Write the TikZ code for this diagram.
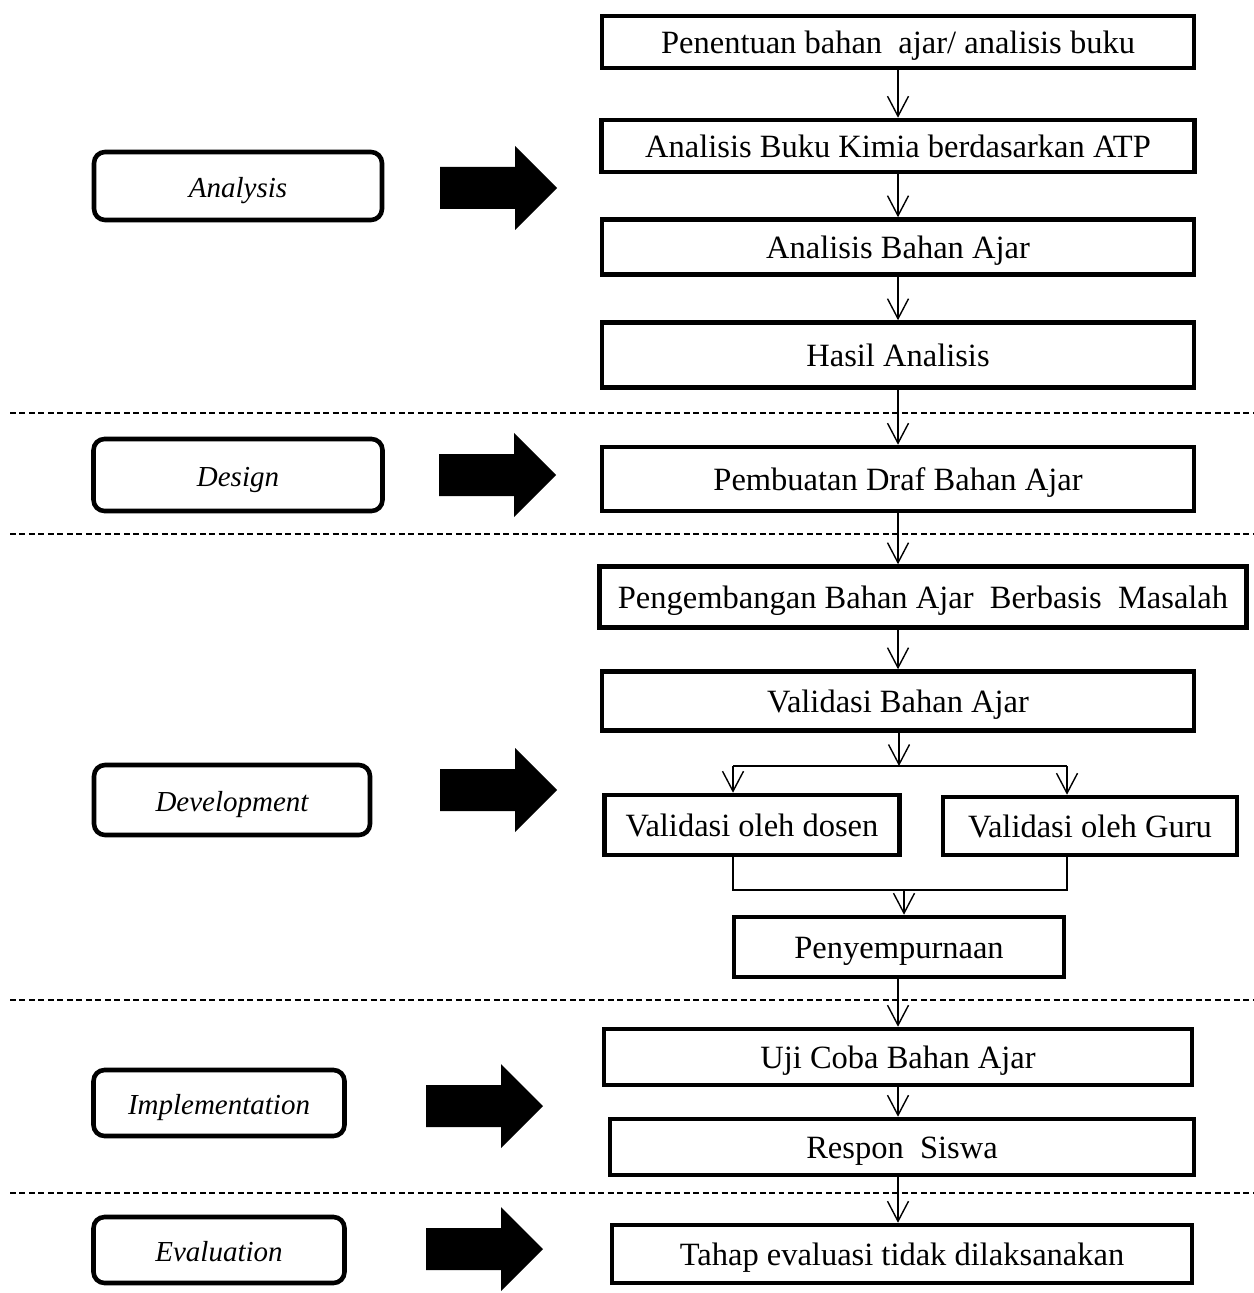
\documentclass[tikz,border=0pt]{standalone}
\usepackage{fontspec}
\setmainfont{Liberation Serif}
\usepackage{tikz}
\usetikzlibrary{arrows,arrows.meta,calc,positioning}
\tikzstyle{procbox}=[rectangle, draw, line width=2.6pt,
                     inner sep=0pt, text height=12.6pt, text depth=0pt,
                     font=\fontsize{18.5}{20}\selectfont]
\tikzstyle{phasebox}=[rectangle, draw, rounded corners=0.22cm,
                      line width=2.6pt, inner sep=0pt,
                      text height=12.6pt, text depth=0pt,
                      font=\fontsize{16.5}{18}\selectfont\itshape]
\tikzstyle{flow}=[line width=0.8pt,
                  -{Straight Barb[length=0.4cm,width=0.42cm]}]
\tikzstyle{link}=[line width=0.8pt]
\tikzstyle{stage}=[dashed, line width=0.7pt, dash pattern=on 3.4pt off 2pt]

\begin{document}
\begin{tikzpicture}[x=0.02cm,y=-0.02cm]
    \useasboundingbox (0,0) rectangle (1253,1293);

    % phases on the left
    \draw (238,186) node (ana) [phasebox, minimum width=5.76cm, minimum height=1.36cm] {Analysis};
    \draw (238,475) node (des) [phasebox, minimum width=5.78cm, minimum height=1.44cm] {Design};
    \draw (232,800) node (dev) [phasebox, minimum width=5.52cm, minimum height=1.40cm] {Development};
    \draw (219,1103) node (imp) [phasebox, minimum width=5.02cm, minimum height=1.32cm] {Implementation};
    \draw (219,1250) node (eva) [phasebox, minimum width=5.02cm, minimum height=1.32cm] {Evaluation};

    % block arrows
    \foreach \x/\y in {440/188,439/475,440/790,426/1106,426/1249}
        \fill (\x,\y-21) -- (\x+75,\y-21) -- (\x+75,\y-42) -- (\x+117,\y)
              -- (\x+75,\y+42) -- (\x+75,\y+21) -- (\x,\y+21) -- cycle;

    % stage separators
    \foreach \y in {413,534,1000,1193}
        \draw [stage] (10,\y) -- (1253,\y);

    % steps
    \draw (898,42) node (pen) [procbox, minimum width=11.84cm, minimum height=1.04cm] {Penentuan bahan \ ajar/ analisis buku};
    \draw (898,146) node (buku) [procbox, minimum width=11.86cm, minimum height=1.04cm] {Analisis Buku Kimia berdasarkan ATP};
    \draw (898,247) node (bahan) [procbox, minimum width=11.84cm, minimum height=1.10cm] {Analisis Bahan Ajar};
    \draw (898,355) node (hasil) [procbox, minimum width=11.84cm, minimum height=1.30cm] {Hasil Analisis};
    \draw (898,479) node (draf) [procbox, minimum width=11.84cm, minimum height=1.28cm] {Pembuatan Draf Bahan Ajar};
    \draw (923,597) node (kembang) [procbox, minimum width=12.94cm, minimum height=1.22cm] {Pengembangan Bahan Ajar \ Berbasis \ Masalah};
    \draw (898,701) node (valid) [procbox, minimum width=11.84cm, minimum height=1.18cm] {Validasi Bahan Ajar};
    \draw (752,825) node (dosen) [procbox, minimum width=5.90cm, minimum height=1.20cm] {Validasi oleh dosen};
    \draw (1090,826) node (guru) [procbox, minimum width=5.88cm, minimum height=1.16cm] {Validasi oleh Guru};
    \draw (899,947) node (sempurna) [procbox, minimum width=6.60cm, minimum height=1.20cm] {Penyempurnaan};
    \draw (898,1057) node (uji) [procbox, minimum width=11.76cm, minimum height=1.12cm] {Uji Coba Bahan Ajar};
    \draw (902,1147) node (respon) [procbox, minimum width=11.68cm, minimum height=1.12cm] {Respon \ Siswa};
    \draw (902,1254) node (tahap) [procbox, minimum width=11.60cm, minimum height=1.16cm] {Tahap evaluasi tidak dilaksanakan};

    \foreach \i/\j in {pen/buku,buku/bahan,bahan/hasil,hasil/draf,draf/kembang,
                       kembang/valid,sempurna/uji,uji/respon,respon/tahap}
        \draw [flow] (\i.south -| pen.south) -- (\j.north -| pen.north);

    % split to the two validators and join again
    \coordinate (split) at (899,766);
    \coordinate (bl) at (733,766);
    \coordinate (br) at (1067,766);
    \coordinate (ml) at (733,890);
    \coordinate (mr) at (1067,890);
    \coordinate (join) at (904,890);
    \draw [flow] (valid.south -| split) -- (split);
    \draw [link] (bl) -- (br);
    \draw [flow] (bl) -- (bl |- dosen.north);
    \draw [flow] (br) -- (br |- guru.north);
    \draw [link] (bl |- dosen.south) -- (ml) -- (mr) -- (br |- guru.south);
    \draw [flow] (join) -- (join |- sempurna.north);

\end{tikzpicture}
\end{document}
